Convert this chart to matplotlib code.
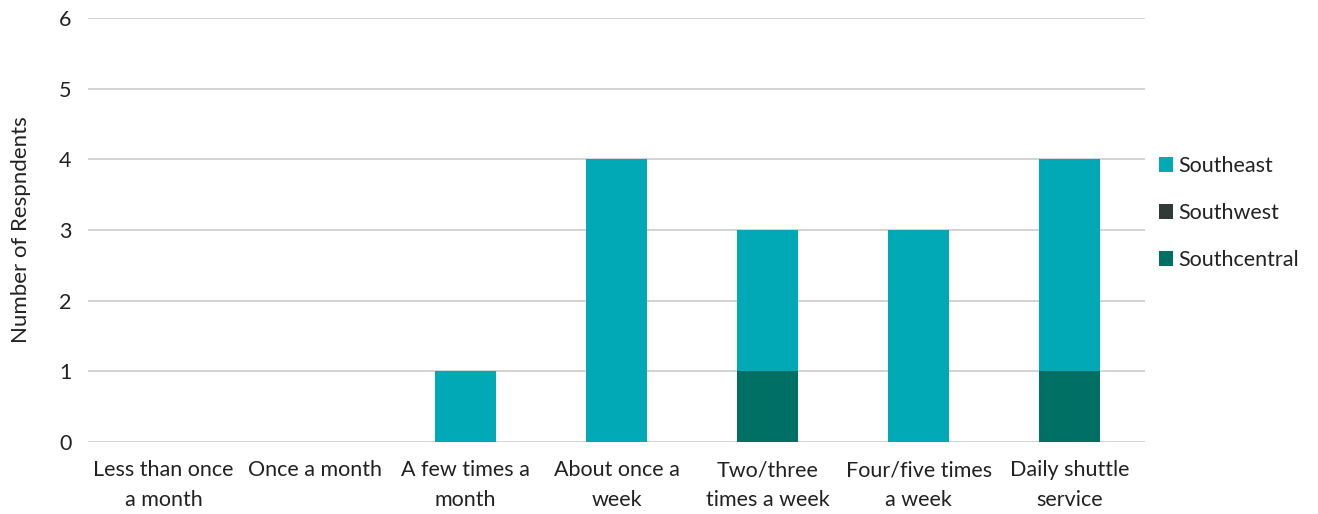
import numpy as np
import matplotlib.pyplot as plt

# data
categories = ['Less than once\na month', 'Once a month', 'A few times a\nmonth',
              'About once a\nweek', 'Two/three\ntimes a week', 'Four/five times\na week',
              'Daily shuttle\nservice']
southcentral = [0, 0, 0, 0, 1, 0, 1]
southwest = [0, 0, 0, 0, 0, 0, 0]
southeast = [0, 0, 1, 4, 2, 3, 3]

plt.rcParams['font.family'] = ['Lato', 'DejaVu Sans']

fig = plt.figure(figsize=(13.18, 5.14), dpi=100)
ax = fig.add_axes([0.0668, 0.140, 0.802, 0.825])

x = np.arange(len(categories))
w = 0.4
sc = np.array(southcentral)
sw = np.array(southwest)
se = np.array(southeast)
b1 = ax.bar(x, sc, w, color='#006F64', label='Southcentral', zorder=3)
b2 = ax.bar(x, sw, w, bottom=sc, color='#2F3B37', label='Southwest', zorder=3)
b3 = ax.bar(x, se, w, bottom=sc + sw, color='#00A9B5', label='Southeast', zorder=3)

ax.set_xlim(-0.5, len(categories) - 0.5)
ax.set_ylim(0, 6)
ax.set_yticks(range(7))
ax.yaxis.grid(True, color='#D0D0D0', linewidth=1.3)
ax.set_axisbelow(True)
for s in ax.spines.values():
    s.set_visible(False)
ax.tick_params(axis='both', length=0, labelsize=15.5, colors='#222222', pad=13)
ax.tick_params(axis='y', pad=12)
ax.set_xticks(x)
ax.set_xticklabels(categories, linespacing=1.6)
ax.set_ylabel('Number of Respndents', fontsize=16, color='#222222', labelpad=20)

ax.legend(handles=[b3, b2, b1], loc='center left', bbox_to_anchor=(0.995, 0.54),
          frameon=False, fontsize=15.5, handlelength=0.65, handleheight=0.65,
          handletextpad=0.25, labelspacing=1.25, labelcolor='#222222')

fig.savefig('out.png', dpi=100)
